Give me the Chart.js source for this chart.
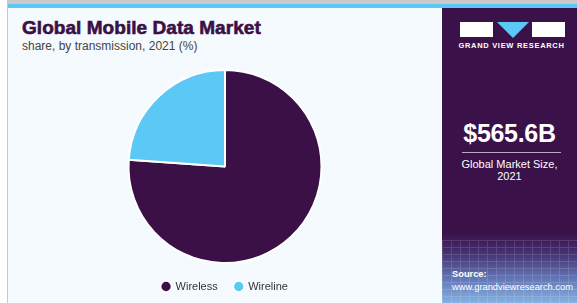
<!DOCTYPE html>
<html>
<head>
<meta charset="utf-8">
<script src="https://cdn.jsdelivr.net/npm/chart.js@4.4.0/dist/chart.umd.min.js"></script>
<style>
  html, body { margin: 0; padding: 0; }
  body { width: 577px; height: 303px; background: #fff; position: relative; overflow: hidden; font-family: "Liberation Sans", Arial, sans-serif; }
  #topgray { position: absolute; left: 7px; top: 0; width: 570px; height: 4px; background: #c9c9c9; }
  #topblue { position: absolute; left: 7px; top: 4px; width: 570px; height: 4px; background: #5bc8f5; }
  #leftline { position: absolute; left: 7px; top: 0; width: 1px; height: 303px; background: #c9c9c9; }
  #main { position: absolute; left: 8px; top: 8px; width: 434px; height: 295px; background: #f4fafd; }
  #title { position: absolute; left: 22px; top: 17px; font-size: 19px; font-weight: bold; color: #3a1047; letter-spacing: 0.05px; -webkit-text-stroke: 0.6px #3a1047; }
  #subtitle { position: absolute; left: 22px; top: 39px; font-size: 12px; color: #444; }
  #wrap { position: absolute; left: 8px; top: 60px; width: 434px; height: 243px; }
  #side { position: absolute; left: 442px; top: 8px; width: 135px; height: 295px;
    background: linear-gradient(to bottom, #3a1149 0%, #3a1149 76%, #453070 83%, #6478b8 92%, #86b2e2 100%); }
  #grid { position: absolute; left: 0; top: 232px; width: 135px; height: 63px; opacity: 0.13;
    background-image: repeating-linear-gradient(to right, #fff 0 1px, transparent 1px 9px),
                      repeating-linear-gradient(to bottom, #fff 0 1px, transparent 1px 7px); }
  .rect { position: absolute; background: #fff; top: 14px; height: 15px; }
  #tri { position: absolute; left: 55px; top: 14px; width: 0; height: 0;
    border-left: 16px solid transparent; border-right: 16px solid transparent; border-top: 16px solid #5bc8f5; }
  #gvr { position: absolute; left: 2px; top: 33px; width: 135px; text-align: center; color: #fff; font-size: 7.5px; font-weight: bold; letter-spacing: 0.7px; }
  #size { position: absolute; left: 0; top: 111px; width: 135px; text-align: center; color: #fff; font-size: 25px; font-weight: bold; letter-spacing: -0.3px; }
  #uline { position: absolute; left: 20px; top: 144px; width: 99px; height: 1px; background: #b9a9c4; }
  #sizelbl { position: absolute; left: 0; top: 150px; width: 135px; text-align: center; color: #fff; font-size: 11px; line-height: 12px; }
  #src { position: absolute; left: 10px; top: 260px; color: #fff; font-size: 9.3px; line-height: 13px; }
</style>
</head>
<body>
<div id="main"></div>
<div id="topgray"></div>
<div id="topblue"></div>
<div id="leftline"></div>
<div id="title">Global Mobile Data Market</div>
<div id="subtitle">share, by transmission, 2021 (%)</div>
<div id="wrap"><canvas id="myChart"></canvas></div>
<div id="side">
  <div id="grid"></div>
  <div class="rect" style="left:18px;width:33px;"></div>
  <div id="tri"></div>
  <div class="rect" style="left:90px;width:33px;"></div>
  <div id="gvr">GRAND VIEW RESEARCH</div>
  <div id="size">$565.6B</div>
  <div id="uline"></div>
  <div id="sizelbl">Global Market Size,<br>2021</div>
  <div id="src"><b>Source:</b><br>www.grandviewresearch.com</div>
</div>
<script>
const labels = ["Wireless", "Wireline"];
const shares = [76.1, 23.9];
const colors = ["#3a1047", "#5bc8f5"];

const data = {
  labels: labels,
  datasets: [
    {
      data: shares,
      backgroundColor: colors,
      borderColor: "#ffffff",
      borderWidth: 2,
    },
  ],
};

const config = {
  type: "pie",
  data: data,
  options: {
    animation: false,
    responsive: true,
    maintainAspectRatio: false,
    layout: {
      padding: { top: 9, bottom: 1 },
    },
    plugins: {
      tooltip: { enabled: false },
      legend: {
        display: true,
        position: "bottom",
        labels: {
          usePointStyle: true,
          pointStyle: "circle",
          boxWidth: 8,
          boxHeight: 8,
          padding: 17,
          color: "#333",
          font: { family: "Liberation Sans", size: 11 },
        },
      },
    },
  },
};

const myChart = new Chart(document.getElementById("myChart"), config);
</script>
</body>
</html>
